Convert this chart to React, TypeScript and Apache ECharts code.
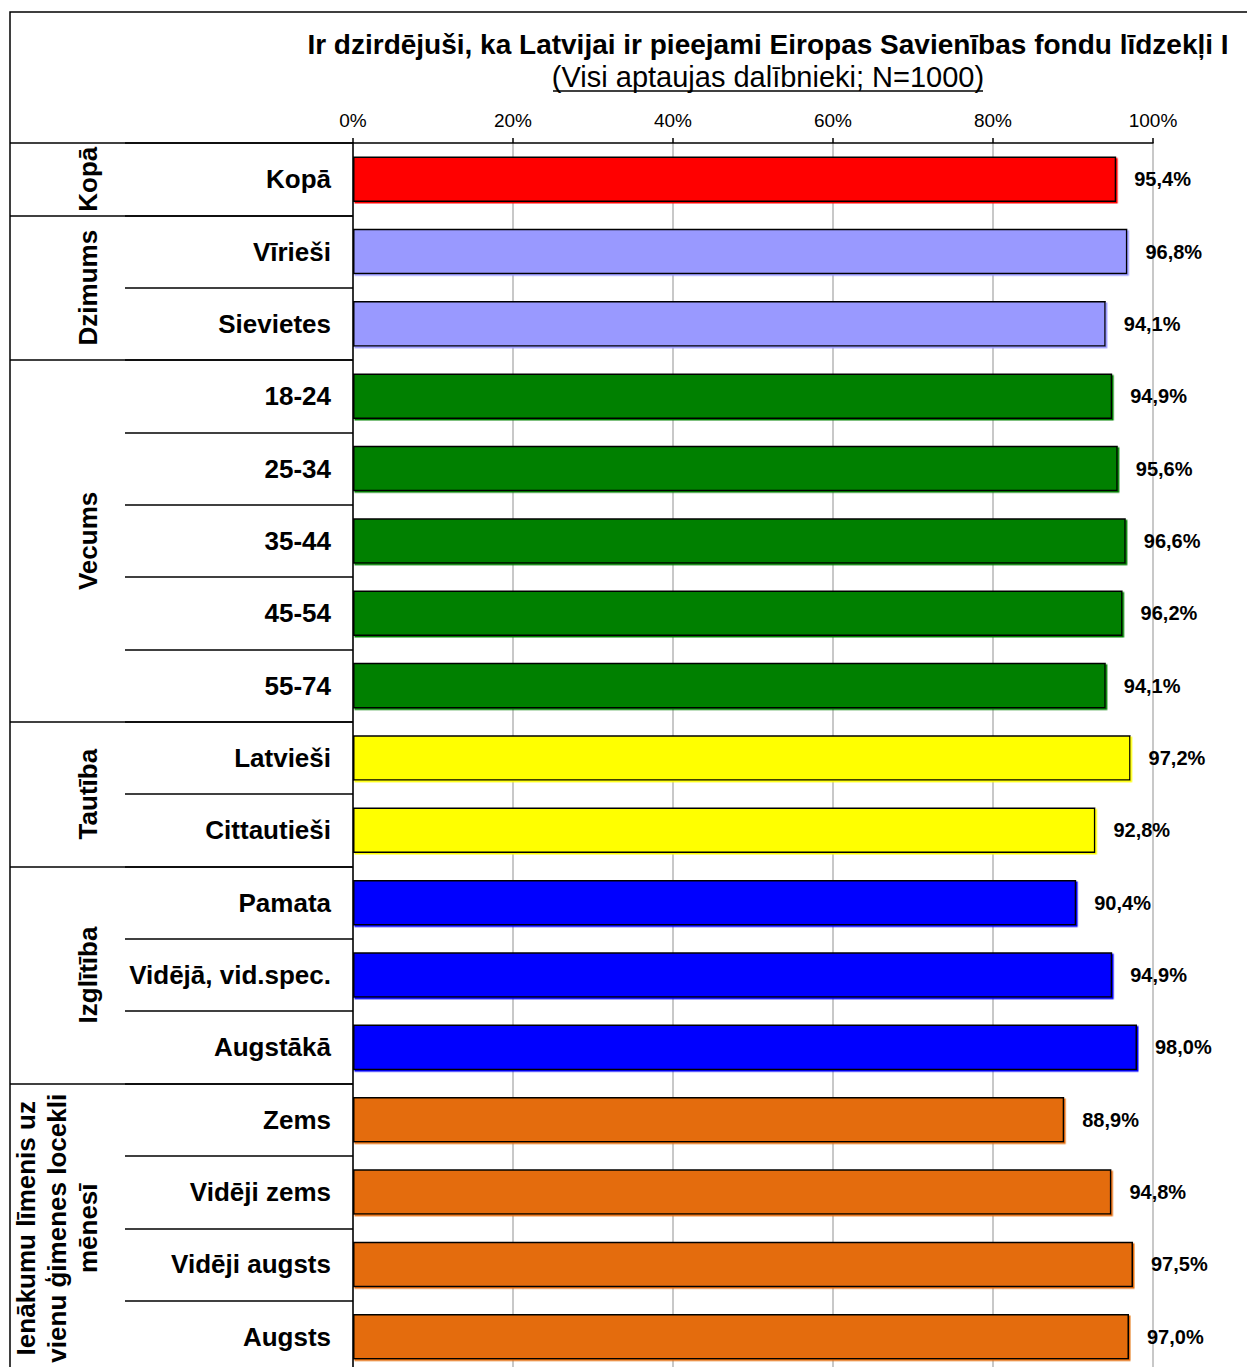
import React, { useEffect, useRef } from "react";
import * as echarts from "echarts";

const categories = [
  "Kopā",
  "Vīrieši",
  "Sievietes",
  "18-24",
  "25-34",
  "35-44",
  "45-54",
  "55-74",
  "Latvieši",
  "Cittautieši",
  "Pamata",
  "Vidējā, vid.spec.",
  "Augstākā",
  "Zems",
  "Vidēji zems",
  "Vidēji augsts",
  "Augsts",
];
const values = [95.4, 96.8, 94.1, 94.9, 95.6, 96.6, 96.2, 94.1, 97.2, 92.8, 90.4, 94.9, 98.0, 88.9, 94.8, 97.5, 97.0];
const groupNames = ["Kopā", "Dzimums", "Vecums", "Tautība", "Izglītība", "Ienākumu līmenis uz\nvienu ģimenes locekli\nmēnesī"];
const groupSizes = [1, 2, 5, 2, 3, 4];
const groupColors = ["#FF0000", "#9999FF", "#008000", "#FFFF00", "#0000FF", "#E46C0A"];
const xMin = 0;
const xMax = 100;
const xStep = 20;
const titleText = "Ir dzirdējuši, ka Latvijai ir pieejami Eiropas Savienības fondu līdzekļi I";
const subtitleText = "(Visi aptaujas dalībnieki; N=1000)";

const FONT = "'Liberation Sans', Arial, sans-serif";

export default function App() {
  const ref = useRef<HTMLDivElement>(null);
  useEffect(() => {
    if (!ref.current) return;
    const chart = echarts.init(ref.current, null, { renderer: "svg" });

    const groupStarts: number[] = [];
    const colorOf: string[] = [];
    let idx = 0;
    groupSizes.forEach((n, g) => {
      groupStarts.push(idx);
      for (let k = 0; k < n; k++) colorOf.push(groupColors[g]);
      idx += n;
    });

    const rowH = 72.35;
    const gridTop = 143;
    const gridLeft = 353;
    const plotW = 800;

    const option: any = {
      animation: false,
      backgroundColor: "#ffffff",
      textStyle: { fontFamily: FONT },
      grid: {
        left: gridLeft,
        top: gridTop,
        width: plotW,
        height: rowH * categories.length,
        containLabel: false,
      },
      xAxis: {
        type: "value",
        position: "top",
        min: xMin,
        max: xMax,
        interval: xStep,
        axisLine: { show: true, lineStyle: { color: "#000", width: 1.5 } },
        axisTick: { show: true, length: 5, lineStyle: { color: "#000", width: 1.5 } },
        axisLabel: {
          formatter: (v: number) => v + "%",
          fontSize: 19,
          color: "#000",
          fontFamily: FONT,
          margin: 13,
        },
        splitLine: {
          show: true,
          showMinLine: false,
          lineStyle: {
            color: ["#c8c8c8", "#c8c8c8", "#c8c8c8", "#c8c8c8", "#c8c8c8", "#8c8c8c"],
            width: 2,
          },
        },
      },
      yAxis: [
        {
          type: "category",
          data: categories,
          inverse: true,
          position: "left",
          axisLine: { show: true, lineStyle: { color: "#333", width: 2 } },
          axisTick: { show: true, length: 228, lineStyle: { color: "#000", width: 1.5 } },
          axisLabel: {
            fontSize: 26,
            fontWeight: "bold",
            color: "#000",
            fontFamily: FONT,
            margin: 22,
          },
        },
        {
          type: "category",
          data: categories,
          inverse: true,
          position: "left",
          offset: 0,
          axisLine: { show: false },
          axisLabel: { show: false },
          axisTick: {
            show: true,
            length: 343,
            interval: (i: number) => groupStarts.indexOf(i) >= 0,
            lineStyle: { color: "#000", width: 1.5 },
          },
        },
      ],
      series: [
        {
          type: "bar",
          yAxisIndex: 0,
          barCategoryGap: "37%",
          data: values.map((v, i) => ({
            value: v,
            itemStyle: {
              color: colorOf[i],
              borderColor: "#000",
              borderWidth: 1.5,
              shadowColor: colorOf[i],
              shadowOffsetX: 1.5,
              shadowOffsetY: 1.5,
              shadowBlur: 0,
            },
          })),
          label: {
            show: true,
            position: "right",
            distance: 18,
            fontSize: 20,
            fontWeight: "bold",
            color: "#000",
            fontFamily: FONT,
            formatter: (p: any) => p.value.toFixed(1).replace(".", ",") + "%",
          },
        },
      ],
    };
    chart.setOption(option);

    const graphics: any[] = [
      {
        type: "rect",
        shape: { x: 10, y: 12, width: 1400, height: 1500 },
        style: { fill: "none", stroke: "#000", lineWidth: 1.5 },
        silent: true,
        z: 10,
      },
      {
        type: "text",
        x: 768,
        y: 44,
        style: {
          text: titleText,
          fontFamily: FONT,
          fontSize: 28,
          fontWeight: "bold",
          fill: "#000",
          align: "center",
          verticalAlign: "middle",
        },
      },
      {
        type: "text",
        x: 768,
        y: 77,
        style: {
          text: subtitleText,
          fontFamily: FONT,
          fontSize: 29,
          fill: "#000",
          align: "center",
          verticalAlign: "middle",
        },
      },
      {
        type: "line",
        shape: { x1: 553, y1: 91, x2: 983, y2: 91 },
        style: { stroke: "#000", lineWidth: 1.5 },
      },
    ];

    groupNames.forEach((name, g) => {
      const first = groupStarts[g];
      const last = first + groupSizes[g] - 1;
      const y1 = chart.convertToPixel({ yAxisIndex: 0 }, categories[first]) as number;
      const y2 = chart.convertToPixel({ yAxisIndex: 0 }, categories[last]) as number;
      const lines = name.split("\n").length;
      graphics.push({
        type: "text",
        x: 88 - ((lines - 1) * 31) / 2,
        y: (y1 + y2) / 2,
        rotation: Math.PI / 2,
        style: {
          text: name,
          fontFamily: FONT,
          fontSize: 26,
          fontWeight: "bold",
          lineHeight: 31,
          fill: "#000",
          align: "center",
          verticalAlign: "middle",
        },
      });
    });

    chart.setOption({ graphic: graphics });

    return () => chart.dispose();
  }, []);

  return (
    <div style={{ position: "fixed", left: 0, top: 0, width: 1247, height: 1367, overflow: "hidden", background: "#fff" }}>
      <div ref={ref} style={{ width: 1247, height: 1440 }} />
    </div>
  );
}
